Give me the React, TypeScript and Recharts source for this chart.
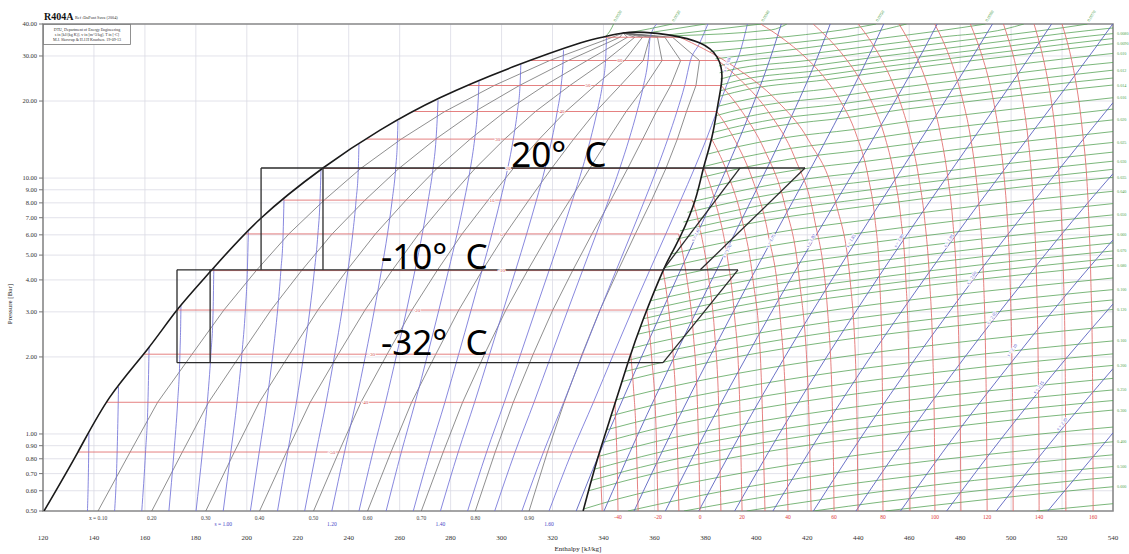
import React from 'react';
import { ComposedChart, Line, XAxis, YAxis, CartesianGrid, ReferenceArea, ReferenceDot } from 'recharts';

type Pt = [number, number];

const SERIF = "'Liberation Serif', 'DejaVu Serif', serif";
const SANS = "'Noto Sans', 'Open Sans', sans-serif";
const RED = '#e06a6a';
const BLUE = '#7272d8';
const GREEN = '#4f9f4f';
const GRAY = '#6a6a6a';

const H_TICKS = [120, 140, 160, 180, 200, 220, 240, 260, 280, 300, 320, 340, 360, 380, 400, 420, 440, 460, 480, 500, 520, 540];
const P_TICKS = [0.5, 0.6, 0.7, 0.8, 0.9, 1, 2, 3, 4, 5, 6, 7, 8, 9, 10, 20, 30, 40];

// saturation dome (bubble line up to the critical point, then dew line down)
const DOME: Pt[] = [
  [120.4, 0.5], [133.7, 0.85], [146.3, 1.396], [160.8, 2.13], [172.6, 3.05], [186.3, 4.38], [205.2, 6.92],
  [229.9, 10.95], [252.3, 15.4], [275.8, 20.6], [304.5, 27.2], [330.8, 33.7], [340, 35.6], [347.7, 36.9],
  [356, 37.1], [366.1, 36.2], [377.9, 33.7], [384.6, 29.7], [386.5, 24.8], [385, 19.6], [382.6, 14.5],
  [379.1, 10.8], [375.1, 7.72], [368.1, 5.38], [363.4, 4.35], [355.5, 2.79], [349.6, 1.9], [343.7, 1.24],
  [337.5, 0.79], [332, 0.5],
];

// two-stage cycle drawn on the chart
const CYCLE: Pt[][] = [
  [[205.6, 10.95], [419.1, 10.95]],
  [[205.6, 10.95], [205.6, 4.38]],
  [[229.9, 10.95], [229.9, 4.38]],
  [[363.4, 4.38], [393.6, 10.95]],
  [[378.0, 4.38], [419.1, 10.95]],
  [[172.6, 4.38], [392.8, 4.38]],
  [[172.6, 4.38], [172.6, 1.9]],
  [[185.6, 4.38], [185.6, 1.9]],
  [[172.6, 1.9], [363.4, 1.9]],
  [[363.4, 1.9], [392.8, 4.38]],
];

// isotherms inside the dome
const SAT_T = [-50, -40, -30, -20, -10, 0, 10, 20, 30, 40, 50, 60, 70];
const SAT_P = [0.85, 1.33, 2.05, 3.05, 4.35, 6.05, 8.2, 10.9, 14.2, 18.2, 23, 28.8, 35.5];
const SAT_HL = [133.7, 145.1, 159.4, 172.6, 186.0, 199.5, 214.3, 229.7, 247.0, 265.8, 287.2, 311.5, 340.5];
const SAT_HG = [338.5, 344.5, 350.7, 357.0, 363.4, 369.5, 375.0, 379.5, 382.5, 384.5, 386.2, 385.0, 370.0];
// where the small temperature figures sit on each dome isotherm
const SAT_LABEL_H = [233.4, 246.4, 249, 266.8, 300, 300, 296.2, 302.5, 298.5, 323.7, 333.9, 346.5, null];

// isotherms in the vapour / supercritical region
const ISOTHERM_VAPOR: { t: number; pts: Pt[] }[] = [
  { t: -50, pts: [[338.5, 0.85], [339.5, 0.5]] },
  { t: -40, pts: [[344.5, 1.33], [345.0, 1.0], [345.45, 0.7], [345.7, 0.5]] },
  { t: -30, pts: [[350.7, 2.05], [351.8, 1.5], [352.8, 1.0], [353.6, 0.5]] },
  { t: -20, pts: [[357.0, 3.05], [358.9, 2.0], [360.7, 1.0], [361.4, 0.5]] },
  { t: -10, pts: [[363.4, 4.35], [365.7, 3.0], [367.4, 2.0], [368.9, 1.0], [369.6, 0.5]] },
  { t: 0, pts: [[369.5, 6.05], [372.8, 4.0], [375.2, 2.5], [377.0, 1.2], [377.9, 0.5]] },
  { t: 10, pts: [[375.0, 8.2], [378.4, 6.0], [381.4, 4.0], [383.6, 2.5], [385.3, 1.2], [386.1, 0.5]] },
  { t: 20, pts: [[379.5, 10.9], [384.0, 8.0], [388.5, 5.0], [391.3, 3.0], [393.3, 1.5], [394.4, 0.5]] },
  { t: 30, pts: [[382.5, 14.2], [389.4, 10.0], [394.2, 7.0], [398.7, 4.0], [401.6, 2.0], [403.4, 0.5]] },
  { t: 40, pts: [[384.5, 18.2], [391.7, 14.0], [398.3, 10.0], [404.7, 6.0], [409.2, 3.0], [411.9, 1.0], [412.4, 0.5]] },
  { t: 50, pts: [[386.2, 23.0], [394.7, 18.0], [403.0, 13.0], [411.0, 8.0], [416.9, 4.0], [420.3, 1.5], [421.5, 0.5]] },
  { t: 60, pts: [[385.0, 28.8], [394.1, 24.0], [405.0, 18.0], [415.1, 12.0], [422.7, 7.0], [428.0, 3.0], [430.1, 1.0], [430.5, 0.5]] },
  { t: 70, pts: [[370.0, 35.5], [379.3, 32.0], [391.9, 27.0], [408.2, 20.0], [420.6, 14.0], [431.2, 8.0], [436.8, 4.0], [439.3, 1.5], [439.9, 0.5]] },
  { t: 80, pts: [[401.7, 40], [410.5, 35], [418.7, 30], [426.3, 25], [433.0, 20], [439.0, 15], [444.0, 10], [446.5, 7], [448.4, 4], [449.3, 2], [449.6, 1], [449.7, 0.5]] },
  { t: 90, pts: [[422.3, 40], [428.4, 35], [434.3, 30], [439.9, 25], [445.1, 20], [450.0, 15], [454.3, 10], [456.7, 7], [458.7, 4], [459.8, 2], [460.2, 1], [460.3, 0.5]] },
  { t: 100, pts: [[440.0, 40], [444.3, 35], [448.4, 30], [452.4, 25], [456.3, 20], [460.1, 15], [463.8, 10], [466.0, 7], [468.0, 4], [469.3, 2], [469.9, 1], [470.1, 0.5]] },
  { t: 110, pts: [[456.0, 40], [459.4, 35], [462.7, 30], [466.0, 25], [469.1, 20], [472.2, 15], [475.2, 10], [477.0, 7], [478.6, 4], [479.6, 2], [480.1, 1], [480.3, 0.5]] },
  { t: 120, pts: [[470.0, 40], [472.9, 35], [475.7, 30], [478.4, 25], [481.1, 20], [483.8, 15], [486.3, 10], [487.8, 7], [489.2, 4], [490.0, 2], [490.4, 1], [490.6, 0.5]] },
  { t: 130, pts: [[484.0, 40], [486.3, 35], [488.6, 30], [490.9, 25], [493.1, 20], [495.2, 15], [497.3, 10], [498.5, 7], [499.6, 4], [500.3, 2], [500.7, 1], [500.8, 0.5]] },
  { t: 140, pts: [[497.0, 40], [498.9, 35], [500.9, 30], [502.7, 25], [504.6, 20], [506.4, 15], [508.1, 10], [509.1, 7], [510.0, 4], [510.6, 2], [510.9, 1], [511.0, 0.5]] },
  { t: 150, pts: [[509.0, 40], [510.7, 35], [512.4, 30], [514.1, 25], [515.8, 20], [517.4, 15], [518.9, 10], [519.8, 7], [520.6, 4], [521.2, 2], [521.4, 1], [521.5, 0.5]] },
  { t: 160, pts: [[520.0, 40], [521.7, 35], [523.4, 30], [525.0, 25], [526.6, 20], [528.1, 15], [529.7, 10], [530.5, 7], [531.3, 4], [531.9, 2], [532.1, 1], [532.2, 0.5]] },
];
const T_LABELS: [number, number][] = [[-40, 345.7], [-20, 361.4], [0, 377.9], [20, 394.4], [40, 412.4], [60, 430.5], [80, 449.7], [100, 470.1], [120, 490.6], [140, 511], [160, 532.2]];

// vapour quality lines
const QUALITY_P = [0.5, 0.85, 1.33, 2.05, 3.05, 4.35, 6.05, 8.2, 10.9, 14.2, 18.2, 23, 28.8, 35.5, 36.9];
const QUALITY: { x: number; h: number[] }[] = [
  { x: 0.1, h: [141.6, 154.2, 165.0, 178.5, 191.0, 203.7, 216.5, 230.4, 244.7, 260.6, 277.7, 297.1, 318.9, 343.5, 347.7] },
  { x: 0.2, h: [162.7, 174.7, 185.0, 197.7, 209.5, 221.5, 233.5, 246.4, 259.7, 274.1, 289.5, 307.0, 326.2, 346.4, 347.7] },
  { x: 0.3, h: [183.9, 195.1, 204.9, 216.8, 227.9, 239.2, 250.5, 262.5, 274.6, 287.7, 301.4, 316.9, 333.6, 349.4, 347.7] },
  { x: 0.4, h: [205.0, 215.6, 224.9, 235.9, 246.4, 257.0, 267.5, 278.6, 289.6, 301.2, 313.3, 326.8, 340.9, 352.3, 347.7] },
  { x: 0.5, h: [226.2, 236.1, 244.8, 255.1, 264.8, 274.7, 284.5, 294.7, 304.6, 314.8, 325.2, 336.7, 348.3, 355.3, 347.7] },
  { x: 0.6, h: [247.4, 256.6, 264.7, 274.2, 283.2, 292.4, 301.5, 310.7, 319.6, 328.3, 337.0, 346.6, 355.6, 358.2, 347.7] },
  { x: 0.7, h: [268.5, 277.1, 284.7, 293.3, 301.7, 310.2, 318.5, 326.8, 334.6, 341.9, 348.9, 356.5, 363.0, 361.2, 347.7] },
  { x: 0.8, h: [289.7, 297.5, 304.6, 312.4, 320.1, 327.9, 335.5, 342.9, 349.5, 355.4, 360.8, 366.4, 370.3, 364.1, 347.7] },
  { x: 0.9, h: [310.8, 318.0, 324.6, 331.6, 338.6, 345.7, 352.5, 358.9, 364.5, 369.0, 372.6, 376.3, 377.7, 367.1, 347.7] },
];

// isentropes (two-phase part, ending on the bubble line)
const ISENTROPE_WET: { s: number; pts: Pt[] }[] = [
  { s: 0.75, pts: [[137.45, 0.5], [137.94, 0.85], [138.03, 1.007]] },
  { s: 0.8, pts: [[148.11, 0.5], [149.1, 0.85], [149.53, 1.33], [149.63, 1.526]] },
  { s: 0.85, pts: [[158.77, 0.5], [160.25, 0.85], [161.19, 1.33], [161.59, 2.05], [161.64, 2.193]] },
  { s: 0.9, pts: [[169.42, 0.5], [171.41, 0.85], [172.84, 1.33], [173.75, 2.05], [174.12, 3.05], [174.14, 3.177]] },
  { s: 0.95, pts: [[180.08, 0.5], [182.57, 0.85], [184.5, 1.33], [185.9, 2.05], [186.78, 3.05], [187.05, 4.35], [187.08, 4.466]] },
  { s: 1.0, pts: [[190.74, 0.5], [193.73, 0.85], [196.16, 1.33], [198.06, 2.05], [199.43, 3.05], [200.21, 4.35], [200.59, 6.05], [200.62, 6.19]] },
  { s: 1.05, pts: [[201.4, 0.5], [204.88, 0.85], [207.82, 1.33], [210.22, 2.05], [212.09, 3.05], [213.37, 4.35], [214.25, 6.05], [214.6, 8.25]] },
  { s: 1.1, pts: [[212.05, 0.5], [216.04, 0.85], [219.47, 1.33], [222.38, 2.05], [224.75, 3.05], [226.53, 4.35], [227.91, 6.05], [228.74, 8.2], [229.11, 10.78]] },
  { s: 1.15, pts: [[222.71, 0.5], [227.2, 0.85], [231.13, 1.33], [234.53, 2.05], [237.41, 3.05], [239.68, 4.35], [241.57, 6.05], [242.9, 8.2], [243.77, 10.9], [244.02, 13.57]] },
  { s: 1.2, pts: [[233.37, 0.5], [238.36, 0.85], [242.79, 1.33], [246.69, 2.05], [250.06, 3.05], [252.84, 4.35], [255.22, 6.05], [257.06, 8.2], [258.43, 10.9], [259.13, 14.2], [259.33, 16.71]] },
  { s: 1.25, pts: [[244.03, 0.5], [249.51, 0.85], [254.45, 1.33], [258.85, 2.05], [262.72, 3.05], [266.0, 4.35], [268.88, 6.05], [271.21, 8.2], [273.09, 10.9], [274.28, 14.2], [274.88, 18.2], [275.07, 20.14]] },
  { s: 1.3, pts: [[254.68, 0.5], [260.67, 0.85], [266.1, 1.33], [271.01, 2.05], [275.38, 3.05], [279.16, 4.35], [282.54, 6.05], [285.37, 8.2], [287.74, 10.9], [289.44, 14.2], [290.54, 18.2], [291.08, 23], [291.14, 23.85]] },
  { s: 1.35, pts: [[265.34, 0.5], [271.83, 0.85], [277.76, 1.33], [283.16, 2.05], [288.04, 3.05], [292.31, 4.35], [296.2, 6.05], [299.53, 8.2], [302.4, 10.9], [304.6, 14.2], [306.2, 18.2], [307.24, 23], [307.56, 27.77]] },
  { s: 1.4, pts: [[276.0, 0.5], [282.99, 0.85], [289.42, 1.33], [295.32, 2.05], [300.69, 3.05], [305.47, 4.35], [309.85, 6.05], [313.69, 8.2], [317.06, 10.9], [319.76, 14.2], [321.85, 18.2], [323.39, 23], [324.16, 28.8], [324.32, 31.59]] },
  { s: 1.45, pts: [[286.66, 0.5], [294.14, 0.85], [301.08, 1.33], [307.48, 2.05], [313.35, 3.05], [318.63, 4.35], [323.51, 6.05], [327.84, 8.2], [331.72, 10.9], [334.91, 14.2], [337.51, 18.2], [339.55, 23], [340.82, 28.8], [341.19, 35.5]] },
  { s: 1.5, pts: [[297.31, 0.5], [305.3, 0.85], [312.74, 1.33], [319.64, 2.05], [326.01, 3.05], [331.79, 4.35], [337.17, 6.05], [342.0, 8.2], [346.37, 10.9], [350.07, 14.2], [353.17, 18.2], [355.71, 23], [357.47, 28.8], [358.34, 35.5], [361, 40]] },
  { s: 1.55, pts: [[307.97, 0.5], [316.46, 0.85], [324.39, 1.33], [331.79, 2.05], [338.67, 3.05], [344.94, 4.35], [350.83, 6.05], [356.16, 8.2], [361.03, 10.9], [365.23, 14.2], [368.83, 18.2], [371.87, 23], [374.13, 28.8], [377.5, 33.3], [381, 40]] },
  { s: 1.6, pts: [[318.63, 0.5], [327.62, 0.85], [336.05, 1.33], [343.95, 2.05], [351.32, 3.05], [358.1, 4.35], [364.48, 6.05], [370.32, 8.2], [375.69, 10.9], [380.39, 14.2], [384.48, 18.2], [389, 24], [394, 32], [396.5, 40]] },
];
const S_LABELS: [string, number][] = [['s = 1.00', 190.74], ['1.20', 233.37], ['1.40', 276.0], ['1.60', 318.63]];
const X_LABELS: [string, number][] = [['x = 0.10', 141.6], ['0.20', 162.7], ['0.30', 183.9], ['0.40', 205.0], ['0.50', 226.2], ['0.60', 247.4], ['0.70', 268.5], ['0.80', 289.7], ['0.90', 310.8]];

// isentropes in the vapour region
const ISENTROPE_DRY: { s: number; pts: Pt[] }[] = [
  { s: 1.65, pts: [[329.29, 0.5], [338.0, 0.82], [341.7, 1], [354.9, 2], [368.5, 4], [382.3, 8], [395.4, 16], [406.7, 32], [409.8, 40]] },
  { s: 1.7, pts: [[340.2, 0.5], [353.6, 1], [367.8, 2], [382.5, 4], [397.5, 8], [412.1, 16], [425.3, 32], [429.0, 40]] },
  { s: 1.75, pts: [[352.0, 0.5], [366.4, 1], [381.7, 2], [397.6, 4], [414.0, 8], [430.3, 16], [445.5, 32], [450.0, 40]] },
  { s: 1.8, pts: [[364.3, 0.5], [379.7, 1], [396.1, 2], [413.2, 4], [431.0, 8], [448.8, 16], [465.9, 32], [471.0, 40]] },
  { s: 1.85, pts: [[377.4, 0.5], [393.8, 1], [411.2, 2], [429.6, 4], [448.6, 8], [468.0, 16], [486.8, 32], [492.7, 40]] },
  { s: 1.9, pts: [[391.5, 0.5], [409.0, 1], [427.6, 2], [447.2, 4], [467.7, 8], [488.7, 16], [509.4, 32], [515.9, 40]] },
  { s: 1.95, pts: [[406.5, 0.5], [425.1, 1], [444.8, 2], [465.7, 4], [487.6, 8], [510.2, 16], [532.8, 32], [539.9, 40]] },
  { s: 2.0, pts: [[422.4, 0.5], [442.0, 1], [462.9, 2], [485.1, 4], [508.4, 8], [532.6, 16], [540, 19.7]] },
  { s: 2.05, pts: [[439.1, 0.5], [459.8, 1], [481.9, 2], [505.4, 4], [530.1, 8], [540, 10.4]] },
  { s: 2.1, pts: [[456.6, 0.5], [478.4, 1], [501.8, 2], [526.5, 4], [540, 5.73]] },
  { s: 2.15, pts: [[474.7, 0.5], [497.6, 1], [522.1, 2], [540, 3.22]] },
  { s: 2.2, pts: [[494.2, 0.5], [518.3, 1], [540, 1.8]] },
  { s: 2.25, pts: [[514.4, 0.5], [540, 1.01]] },
];
const S_LINE_LABELS: [string, number, number, number][] = [
  ['s = 1.60', 389, 28, -70], ['s = 1.65', 376.8, 6.07, -62], ['s = 1.70', 389, 5.23, -62], ['s = 1.75', 406.2, 5.73, -61],
  ['s = 1.80', 421.9, 5.73, -60], ['s = 1.85', 437.6, 5.73, -59], ['s = 1.90', 456.4, 5.73, -58], ['s = 1.95', 476.0, 5.73, -57],
  ['s = 2.00', 485.0, 4.1, -56], ['s = 2.05', 492.9, 2.86, -55], ['s = 2.10', 500.8, 2.14, -54], ['s = 2.15', 511.3, 1.53, -53],
  ['s = 2.20', 520.4, 1.1, -52],
];

// isochores (specific volume, m3/kg); lab = value printed at the chart edge
const ISOCHORES: { v: string; lab: boolean; pts: Pt[] }[] = [
  { v: '0.0020', lab: true, pts: [[340.5, 35.5], [342.5, 37.5], [344, 40]] },
  { v: '0.0030', lab: true, pts: [[350, 36.95], [358, 38.3], [367, 40]] },
  { v: '0.0035', lab: false, pts: [[358, 37.0], [368, 38.3], [380, 40]] },
  { v: '0.0040', lab: true, pts: [[366.0, 36.3], [383, 38.0], [402, 40]] },
  { v: '0.0045', lab: false, pts: [[368, 36.0], [406, 37.95], [412, 40]] },
  { v: '0.0050', lab: true, pts: [[378.0, 33.63], [412.0, 35.7], [441.0, 38.98], [447, 40]] },
  { v: '0.0055', lab: false, pts: [[382, 31.26], [413.6, 33.7], [443.0, 36.73], [459, 40]] },
  { v: '0.0060', lab: true, pts: [[384.0, 29.24], [415.6, 31.91], [444.5, 34.72], [471.3, 37.55], [490, 40]] },
  { v: '0.0065', lab: false, pts: [[385.3, 27.41], [387.1, 27.715], [418.2, 30.3], [446.0, 32.92], [472.6, 35.556], [497.7, 38.23], [505, 40]] },
  { v: '0.0070', lab: true, pts: [[385.6, 25.79], [389.7, 26.42], [420.6, 28.85], [447.3, 31.3], [473.6, 33.76], [498.4, 36.25], [520.4, 38.7], [530, 40]] },
  { v: '0.0075', lab: false, pts: [[385.9, 24.38], [391.7, 25.248], [422.5, 27.531], [448.5, 29.833], [474.7, 32.14], [499.1, 34.48], [521.1, 36.82], [540, 38.6]] },
  { v: '0.0080', lab: true, pts: [[386.2, 23.12], [393.8, 24.17], [424.3, 26.32], [449.6, 28.5], [475.3, 30.67], [500.0, 32.87], [521.7, 35.06], [540, 36.7]] },
  { v: '0.0085', lab: false, pts: [[385.9, 21.94], [395.6, 23.185], [426.0, 25.222], [450.6, 27.273], [476.1, 29.327], [500.3, 31.4], [522.3, 33.48], [540, 35.1]] },
  { v: '0.0090', lab: true, pts: [[385.5, 20.885], [397.2, 22.27], [427.4, 24.21], [451.5, 26.15], [476.2, 28.1], [500.9, 30.06], [522.7, 32.02], [540, 33.5]] },
  { v: '0.010', lab: true, pts: [[384.8, 19.064], [400.2, 20.654], [429.8, 22.404], [453.0, 24.16], [477.9, 25.92], [523.6, 29.46], [540, 30.7]] },
  { v: '0.011', lab: false, pts: [[384.2, 17.52], [385.4, 17.666], [402.7, 19.251], [431.9, 20.851], [454.4, 22.455], [478.9, 24.058], [524.3, 27.29], [540, 28.3]] },
  { v: '0.012', lab: true, pts: [[383.6, 16.194], [387.3, 16.568], [404.9, 18.028], [433.6, 19.502], [455.5, 20.97], [479.8, 22.45], [524.9, 25.4], [540, 26.4]] },
  { v: '0.013', lab: false, pts: [[383.0, 15.06], [389.0, 15.6], [406.8, 16.951], [435.3, 18.312], [456.5, 19.675], [480.5, 21.036], [525.4, 23.77], [540, 24.6]] },
  { v: '0.014', lab: true, pts: [[382.4, 14.078], [390.4, 14.738], [408.4, 15.995], [436.3, 17.262], [457.4, 18.53], [481.2, 19.79], [525.9, 22.33], [540, 23.1]] },
  { v: '0.016', lab: true, pts: [[381.0, 12.414], [392.9, 13.271], [411.1, 14.374], [438.4, 15.485], [458.9, 16.59], [482.3, 17.7], [526.6, 19.918], [540, 20.6]] },
  { v: '0.018', lab: false, pts: [[379.7, 11.11], [394.9, 12.07], [413.3, 13.052], [440.0, 14.039], [460.1, 15.025], [482.6, 16.007], [527.2, 17.977], [540, 18.6]] },
  { v: '0.020', lab: true, pts: [[378.2, 10.041], [380.6, 10.176], [396.5, 11.068], [415.2, 11.952], [441.2, 12.84], [484.0, 14.61], [527.7, 16.381], [540, 16.88]] },
  { v: '0.0225', lab: false, pts: [[376.4, 8.956], [382.1, 9.235], [398.3, 10.028], [416.9, 10.813], [442.4, 11.602], [484.7, 13.173], [528.2, 14.745], [540, 15.2]] },
  { v: '0.025', lab: true, pts: [[374.7, 8.081], [383.3, 8.453], [399.6, 9.166], [418.3, 9.873], [443.4, 10.582], [485.3, 11.993], [528.6, 13.405], [540, 13.78]] },
  { v: '0.0275', lab: false, pts: [[373.0, 7.347], [384.3, 7.793], [400.8, 8.441], [419.7, 9.082], [444.2, 9.726], [485.8, 11.008], [528.9, 12.289], [540, 12.63]] },
  { v: '0.030', lab: true, pts: [[371.4, 6.734], [385.2, 7.229], [401.8, 7.822], [444.8, 8.999], [486.2, 10.171], [529.3, 11.344], [540, 11.64]] },
  { v: '0.0325', lab: false, pts: [[370.0, 6.218], [385.9, 6.741], [402.6, 7.288], [445.4, 8.373], [486.6, 9.453], [529.5, 10.534], [540, 10.82]] },
  { v: '0.035', lab: true, pts: [[368.6, 5.77], [386.5, 6.314], [403.4, 6.822], [445.8, 7.828], [486.9, 8.83], [529.7, 9.832], [540, 10.07]] },
  { v: '0.040', lab: true, pts: [[366.1, 5.037], [370.9, 5.165], [387.6, 5.606], [404.6, 6.048], [446.5, 6.926], [487.4, 7.801], [530.1, 8.676], [540, 8.88]] },
  { v: '0.045', lab: false, pts: [[363.9, 4.467], [371.8, 4.649], [388.4, 5.04], [405.5, 5.432], [447.0, 6.211], [487.8, 6.987], [530.3, 7.763], [540, 7.95]] },
  { v: '0.050', lab: true, pts: [[361.9, 4.007], [372.4, 4.226], [389.1, 4.578], [406.3, 4.93], [447.4, 5.63], [488.1, 6.327], [530.5, 7.024], [540, 7.18]] },
  { v: '0.055', lab: false, pts: [[360.1, 3.629], [373.0, 3.874], [389.6, 4.193], [406.9, 4.513], [447.7, 5.148], [488.4, 5.781], [530.7, 6.413], [540, 6.55]] },
  { v: '0.060', lab: true, pts: [[358.5, 3.315], [373.5, 3.577], [390.1, 3.868], [407.5, 4.161], [447.9, 4.742], [488.6, 5.321], [530.8, 5.9], [540, 6.03]] },
  { v: '0.065', lab: false, pts: [[357.0, 3.05], [374.0, 3.321], [390.5, 3.59], [407.9, 3.86], [448.1, 4.396], [488.8, 4.93], [530.9, 5.464], [540, 5.58]] },
  { v: '0.070', lab: true, pts: [[355.8, 2.823], [374.2, 3.1], [390.8, 3.349], [408.3, 3.6], [448.3, 4.097], [488.9, 4.592], [531.0, 5.087], [540, 5.19]] },
  { v: '0.075', lab: false, pts: [[354.6, 2.625], [374.5, 2.906], [391.1, 3.139], [408.6, 3.372], [448.5, 3.836], [489.1, 4.297], [531.1, 4.759], [540, 4.86]] },
  { v: '0.080', lab: true, pts: [[353.6, 2.455], [374.8, 2.736], [391.4, 2.953], [408.9, 3.172], [448.6, 3.606], [489.2, 4.038], [531.2, 4.47], [540, 4.56]] },
  { v: '0.090', lab: false, pts: [[351.6, 2.17], [358.4, 2.254], [375.3, 2.448], [391.8, 2.641], [428.0, 3.027], [468.3, 3.412], [510.1, 3.796], [531.3, 3.987], [540, 4.07]] },
  { v: '0.100', lab: true, pts: [[349.9, 1.942], [358.8, 2.044], [375.6, 2.215], [392.1, 2.388], [428.3, 2.735], [468.6, 3.081], [510.2, 3.426], [531.4, 3.598], [540, 3.665]] },
  { v: '0.110', lab: false, pts: [[348.5, 1.755], [359.1, 1.864], [392.4, 2.179], [428.5, 2.494], [468.8, 2.809], [510.3, 3.122], [531.5, 3.279], [540, 3.34]] },
  { v: '0.120', lab: true, pts: [[347.1, 1.6], [359.4, 1.716], [376.1, 1.858], [392.6, 2.004], [428.7, 2.293], [468.9, 2.58], [510.3, 2.868], [531.6, 3.011], [540, 3.065]] },
  { v: '0.140', lab: false, pts: [[344.8, 1.358], [360.0, 1.48], [393.0, 1.727], [429.5, 1.974], [469.2, 2.22], [510.4, 2.466], [531.7, 2.588], [540, 2.63]] },
  { v: '0.160', lab: true, pts: [[342.9, 1.177], [360.2, 1.302], [393.3, 1.517], [429.5, 1.733], [469.3, 1.948], [510.5, 2.163], [531.8, 2.27], [540, 2.31]] },
  { v: '0.180', lab: false, pts: [[341.2, 1.038], [360.4, 1.161], [393.4, 1.353], [429.7, 1.544], [469.5, 1.735], [510.6, 1.926], [531.9, 2.021], [540, 2.056]] },
  { v: '0.200', lab: true, pts: [[339.7, 0.927], [360.6, 1.049], [393.6, 1.22], [429.8, 1.393], [469.6, 1.564], [510.6, 1.736], [531.9, 1.822], [540, 1.853]] },
  { v: '0.225', lab: false, pts: [[338.0, 0.817], [360.8, 0.935], [393.6, 1.087], [429.9, 1.24], [469.7, 1.393], [510.7, 1.546], [531.9, 1.621], [540, 1.649]] },
  { v: '0.250', lab: true, pts: [[336.6, 0.729], [360.9, 0.843], [393.9, 0.981], [430.0, 1.118], [469.8, 1.255], [510.8, 1.393], [532.0, 1.461], [540, 1.486]] },
  { v: '0.275', lab: false, pts: [[335.4, 0.659], [361.0, 0.768], [394.0, 0.893], [430.1, 1.018], [469.8, 1.143], [510.8, 1.267], [532.0, 1.329], [540, 1.351]] },
  { v: '0.300', lab: true, pts: [[334.2, 0.6], [361.1, 0.705], [394.1, 0.82], [430.1, 0.934], [469.9, 1.048], [510.9, 1.163], [532.1, 1.219], [540, 1.24]] },
  { v: '0.350', lab: false, pts: [[332.2, 0.509], [345.6, 0.557], [377.7, 0.655], [412.0, 0.753], [449.6, 0.851], [490.4, 0.949], [532.1, 1.047], [540, 1.064]] },
  { v: '0.400', lab: true, pts: [[349.6, 0.5], [377.8, 0.574], [412.3, 0.66], [449.7, 0.746], [490.5, 0.831], [532.1, 0.917], [540, 0.932]] },
  { v: '0.450', lab: false, pts: [[371.6, 0.5], [394.3, 0.549], [430.4, 0.625], [470.0, 0.701], [510.9, 0.777], [532.1, 0.815], [540, 0.829]] },
  { v: '0.500', lab: true, pts: [[396.2, 0.5], [430.4, 0.563], [470.0, 0.632], [532.2, 0.734], [540, 0.746]] },
  { v: '0.550', lab: false, pts: [[422.4, 0.5], [449.7, 0.5435], [490.6, 0.6055], [532.2, 0.6677], [540, 0.679]] },
  { v: '0.600', lab: true, pts: [[450.7, 0.5], [490.6, 0.555], [532.2, 0.612], [540, 0.622]] },
  { v: '0.700', lab: false, pts: [[510.0, 0.5], [532.2, 0.525], [540, 0.534]] },
];

// large annotations
const BIG_LABELS: [string, number, number][] = [
  ['20°\u00a0\u00a0C', 303.8, 11.05],
  ['-10°\u00a0\u00a0C', 252.7, 4.4],
  ['-32°\u00a0\u00a0C', 252.7, 2.04],
];

const toData = (pts: Pt[]) => pts.map(([h, p]) => ({ h, p }));

type LabelOpts = { dx?: number; dy?: number; size?: number; color?: string; anchor?: string; rotate?: number; weight?: string; family?: string; halo?: boolean };
function textLabel(text: string, o: LabelOpts) {
  return (props: any) => {
    const vb = props.viewBox || {};
    const x = (vb.x || 0) + (vb.width || 0) / 2 + (o.dx || 0);
    const y = (vb.y || 0) + (vb.height || 0) / 2 + (o.dy || 0);
    return (
      <text
        x={x}
        y={y}
        fontSize={o.size ?? 6}
        fill={o.color ?? '#333'}
        textAnchor={(o.anchor as any) ?? 'middle'}
        fontFamily={o.family ?? SERIF}
        fontWeight={o.weight}
        transform={o.rotate ? `rotate(${o.rotate} ${x} ${y})` : undefined}
        stroke={o.halo ? '#fff' : 'none'}
        strokeWidth={o.halo ? 1.6 : 0}
        paintOrder="stroke"
        style={{ whiteSpace: 'pre' }}
      >
        {text}
      </text>
    );
  };
}

function titleBlock(props: any) {
  const vb = props.viewBox || {};
  const x = vb.x || 0;
  const y = vb.y || 0;
  return (
    <g>
      <text x={x + 1} y={y - 4} fontSize={10} fontWeight="bold" fontFamily={SERIF} fill="#111">R404A</text>
      <text x={x + 32} y={y - 5} fontSize={4.2} fontFamily={SERIF} fill="#333">Ref :DuPont Suva (2004)</text>
      <rect x={x + 0.5} y={y + 0.5} width={87} height={20} fill="#fff" stroke="#777" strokeWidth={0.8} />
      <text x={x + 44} y={y + 6.5} fontSize={4} fontFamily={SERIF} fill="#333" textAnchor="middle">DTU, Department of Energy Engineering</text>
      <text x={x + 44} y={y + 11.8} fontSize={4} fontFamily={SERIF} fill="#333" textAnchor="middle">s in [kJ/(kg K)]. v in [m^3/kg]. T in [ºC]</text>
      <text x={x + 44} y={y + 17.1} fontSize={4} fontFamily={SERIF} fill="#333" textAnchor="middle">M.J. Skovrup &amp; H.J.H Knudsen. 19-09-13</text>
    </g>
  );
}

function yTitle(props: any) {
  const vb = props.viewBox || {};
  const x = (vb.x || 0) + 12;
  const y = (vb.y || 0) + 280;
  return (
    <text x={x} y={y} fontSize={7} fontFamily={SERIF} fill="#222" textAnchor="middle" transform={`rotate(-90 ${x} ${y})`}>
      Pressure [Bar]
    </text>
  );
}

const common = { dataKey: 'p', dot: false, activeDot: false, isAnimationActive: false, legendType: 'none' as const };

export default function App() {
  return (
    <div style={{ position: 'absolute', left: 0, top: 0, width: 1129, height: 554, background: '#fff' }}>
      <ComposedChart width={1129} height={554} margin={{ top: 24, right: 16, bottom: 0, left: 0 }}>
        <CartesianGrid stroke="#dadae4" strokeWidth={0.8} />
        <XAxis
          dataKey="h"
          type="number"
          domain={[120, 540]}
          ticks={H_TICKS}
          interval={0}
          allowDataOverflow
          height={43}
          axisLine={false}
          tickLine={false}
          tickSize={0}
          tickMargin={24}
          tick={{ fontSize: 7, fill: '#333', fontFamily: SERIF }}
          label={{ value: 'Enthalpy [kJ/kg]', position: 'insideBottom', offset: 3, style: { fontSize: 7, fill: '#222', fontFamily: SERIF } }}
        />
        <YAxis
          dataKey="p"
          type="number"
          scale="log"
          domain={[0.5, 40]}
          ticks={P_TICKS}
          interval={0}
          allowDataOverflow
          width={43}
          axisLine={false}
          tickLine={{ stroke: '#777' }}
          tickSize={4}
          tickMargin={2}
          tick={{ fontSize: 6.5, fill: '#333', fontFamily: SERIF }}
          tickFormatter={(v: number) => Number(v).toFixed(2)}
          label={{ content: yTitle }}
        />

        {QUALITY.map((q) => (
          <Line key={`q${q.x}`} {...common} data={toData(q.h.map((h, i) => [h, QUALITY_P[i]] as Pt))} type="linear" stroke={GRAY} strokeWidth={0.75} />
        ))}
        {ISENTROPE_WET.map((l) => (
          <Line key={`sw${l.s}`} {...common} data={toData(l.pts)} type="monotone" stroke={BLUE} strokeWidth={0.85} />
        ))}
        {ISOCHORES.map((l) => (
          <Line key={`v${l.v}`} {...common} data={toData(l.pts)} type="monotone" stroke={GREEN} strokeWidth={0.75} />
        ))}
        {ISENTROPE_DRY.map((l) => (
          <Line key={`sd${l.s}`} {...common} data={toData(l.pts)} type="monotone" stroke="#5a62c0" strokeWidth={0.9} />
        ))}
        {SAT_T.map((t, i) => (
          <Line key={`tw${t}`} {...common} data={toData([[SAT_HL[i], SAT_P[i]], [SAT_HG[i], SAT_P[i]]])} type="linear" stroke={RED} strokeWidth={0.85} />
        ))}
        {ISOTHERM_VAPOR.map((l) => (
          <Line key={`tv${l.t}`} {...common} data={toData(l.pts)} type="monotone" stroke={RED} strokeWidth={0.85} />
        ))}
        <Line key="dome" {...common} data={toData(DOME)} type="natural" stroke="#1a1a1a" strokeWidth={1.6} />
        {CYCLE.map((seg, i) => (
          <Line key={`c${i}`} {...common} data={toData(seg)} type="linear" stroke="#2a2a2a" strokeWidth={1.3} />
        ))}

        <ReferenceArea x1={120} x2={540} y1={0.5} y2={40} fill="none" fillOpacity={0} stroke="#8a8a8a" strokeWidth={1.6} ifOverflow="visible" />

        {SAT_T.map((t, i) =>
          SAT_LABEL_H[i] == null ? null : (
            <ReferenceDot key={`tl${t}`} x={SAT_LABEL_H[i] as number} y={SAT_P[i]} r={0} fill="none" stroke="none" ifOverflow="visible"
              label={textLabel(String(t), { size: 5, color: '#d04848', dy: 1.8, halo: true })} />
          )
        )}
        {T_LABELS.map(([t, h]) => (
          <ReferenceDot key={`tb${t}`} x={h} y={0.5} r={0} fill="none" stroke="none" ifOverflow="visible"
            label={textLabel(String(t), { size: 5.5, color: '#e03a3a', dy: 8 })} />
        ))}
        {X_LABELS.map(([t, h]) => (
          <ReferenceDot key={`xl${t}`} x={h} y={0.5} r={0} fill="none" stroke="none" ifOverflow="visible"
            label={textLabel(t, { size: 5.5, color: '#444', dy: 9 })} />
        ))}
        {S_LABELS.map(([t, h]) => (
          <ReferenceDot key={`sl${t}`} x={h} y={0.5} r={0} fill="none" stroke="none" ifOverflow="visible"
            label={textLabel(t, { size: 5.5, color: '#4a4ac8', dy: 15 })} />
        ))}
        {S_LINE_LABELS.map(([t, h, p, r]) => (
          <ReferenceDot key={`sll${t}`} x={h} y={p} r={0} fill="none" stroke="none" ifOverflow="visible"
            label={textLabel(t, { size: 4.5, color: '#4a4ac8', rotate: r, dy: 1.5, halo: true })} />
        ))}
        {ISOCHORES.filter((l) => l.lab).map((l) => {
          const last = l.pts[l.pts.length - 1];
          const atTop = last[1] >= 39.9 && last[0] < 539;
          return (
            <ReferenceDot key={`vl${l.v}`} x={last[0]} y={last[1]} r={0} fill="none" stroke="none" ifOverflow="visible"
              label={atTop
                ? textLabel(l.v, { size: 4.5, color: GREEN, rotate: -58, anchor: 'start', dx: 2, dy: -2 })
                : textLabel(l.v, { size: 4.2, color: GREEN, anchor: 'start', dx: 4, dy: 1.5 })} />
          );
        })}
        {BIG_LABELS.map(([t, h, p]) => (
          <ReferenceDot key={`big${t}`} x={h} y={p} r={0} fill="none" stroke="none" ifOverflow="visible"
            label={textLabel(t, { size: 35, color: '#000', anchor: 'start', family: SANS })} />
        ))}
        <ReferenceDot x={120} y={40} r={0} fill="none" stroke="none" ifOverflow="visible" label={titleBlock} />
      </ComposedChart>
    </div>
  );
}
